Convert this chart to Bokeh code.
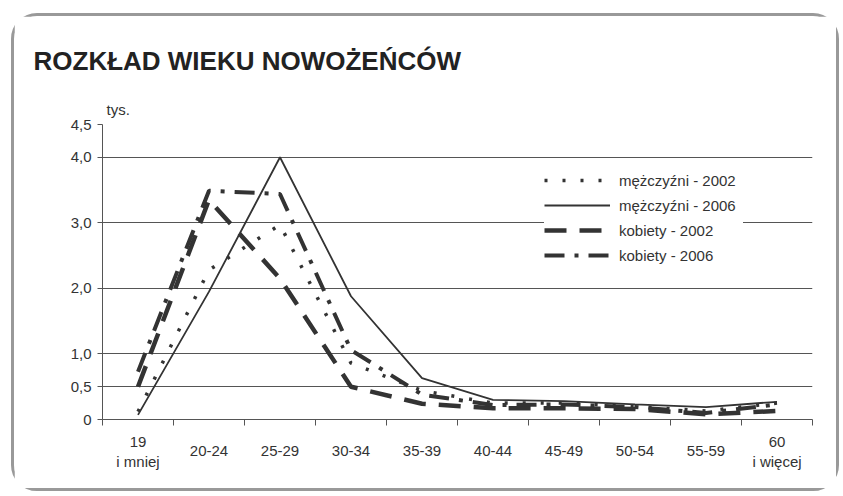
from bokeh.plotting import figure
from bokeh.models import Range1d, FixedTicker, Legend, LegendItem, Title, LinearAxis
from bokeh.embed import file_html
from bokeh.resources import INLINE

categories = ["19\ni mniej", "20-24", "25-29", "30-34", "35-39", "40-44",
              "45-49", "50-54", "55-59", "60\ni więcej"]
m2002 = [0.12, 2.28, 2.97, 0.86, 0.44, 0.25, 0.25, 0.20, 0.13, 0.25]
m2006 = [0.07, 1.95, 4.00, 1.88, 0.63, 0.30, 0.28, 0.23, 0.19, 0.27]
k2002 = [0.50, 3.35, 2.15, 0.50, 0.24, 0.17, 0.17, 0.16, 0.08, 0.13]
k2006 = [0.73, 3.49, 3.44, 1.06, 0.38, 0.22, 0.23, 0.19, 0.10, 0.23]
y_ticks = [0, 0.5, 1, 2, 3, 4, 4.5]
y_labels = ["0", "0,5", "1,0", "2,0", "3,0", "4,0", "4,5"]
series_names = ["mężczyźni - 2002", "mężczyźni - 2006", "kobiety - 2002", "kobiety - 2006"]

FONT = "Liberation Sans"
INK = "#333333"

xpos = [i + 0.5 for i in range(len(categories))]
bounds = list(range(len(categories) + 1))

p = figure(width=828, height=478, output_backend="svg", toolbar_location=None,
           x_range=Range1d(0, len(categories)), y_range=Range1d(0, 4.5),
           min_border_left=88, min_border_right=30, min_border_top=108, min_border_bottom=75)
p.styles = {"border": "3px solid #999999", "border-radius": "26px",
            "margin-left": "3px", "margin-top": "5px",
            "transform": "translate(8px, 8px)"}
p.outline_line_color = None
p.background_fill_color = "white"
p.border_fill_color = "white"

# y axis
yt = FixedTicker(ticks=y_ticks)
p.yaxis.ticker = yt
p.yaxis.major_label_overrides = {t: l for t, l in zip(y_ticks, y_labels)}
p.yaxis.minor_tick_line_color = None
p.yaxis.major_tick_out = 5
p.yaxis.major_tick_in = 0
p.yaxis.major_label_standoff = 6
p.yaxis.axis_line_color = "#555555"
p.yaxis.major_tick_line_color = "#555555"
p.yaxis.major_label_text_font = FONT
p.yaxis.major_label_text_font_size = "15px"
p.yaxis.major_label_text_color = INK
p.ygrid.ticker = yt
p.ygrid.grid_line_color = "#555555"
p.ygrid.grid_line_width = 1
p.xgrid.visible = False

# x axis (ticks at category boundaries, middle labels)
xa = p.xaxis[0]
xa.ticker = FixedTicker(ticks=xpos, minor_ticks=bounds)
xa.major_label_overrides = {x: (c if "\n" not in c else "") for x, c in zip(xpos, categories)}
xa.major_tick_out = 0
xa.major_tick_in = 0
xa.minor_tick_out = 6
xa.minor_tick_in = 0
xa.minor_tick_line_color = "#555555"
xa.axis_line_color = "#555555"
xa.major_label_standoff = 20
xa.major_label_text_font = FONT
xa.major_label_text_font_size = "15px"
xa.major_label_text_color = INK

# second x axis for two-line end labels
xb = LinearAxis(ticker=FixedTicker(ticks=xpos, minor_ticks=[]))
xb.major_label_overrides = {x: (c if "\n" in c else "") for x, c in zip(xpos, categories)}
xb.axis_line_color = None
xb.major_tick_line_color = None
xb.minor_tick_line_color = None
xb.major_tick_out = 0
xb.major_tick_in = 0
xb.major_label_standoff = -26
xb.major_label_text_font = FONT
xb.major_label_text_font_size = "15px"
xb.major_label_text_color = INK
p.add_layout(xb, "below")

# titles
p.add_layout(Title(text="tys.", align="left", offset=4, standoff=13,
                   text_font=FONT, text_font_size="15px", text_font_style="normal",
                   text_color=INK), "above")
p.add_layout(Title(text="ROZKŁAD WIEKU NOWOŻEŃCÓW", align="left", offset=-69, standoff=33,
                   text_font=FONT, text_font_size="26px", text_font_style="bold",
                   text_color="#222222"), "above")

r1 = p.line(xpos, m2002, line_color=INK, line_width=3.5, line_dash="3 15", line_cap="butt")
r2 = p.line(xpos, m2006, line_color=INK, line_width=1.8)
r3 = p.line(xpos, k2002, line_color=INK, line_width=4.5, line_dash="22 13", line_cap="butt")
r4 = p.line(xpos, k2006, line_color=INK, line_width=4, line_dash="20 10 4 10", line_cap="butt")

legend = Legend(items=[LegendItem(label=n, renderers=[r]) for n, r in zip(series_names, [r1, r2, r3, r4])],
                location=(442, 154), padding=8, spacing=5, glyph_width=66, glyph_height=20,
                label_standoff=9, label_width=124, label_text_font=FONT, label_text_font_size="15px",
                label_text_color=INK, border_line_color=None, background_fill_color="white",
                background_fill_alpha=1.0, margin=0)
p.add_layout(legend)

open("out.html", "w").write(file_html(p, INLINE))
